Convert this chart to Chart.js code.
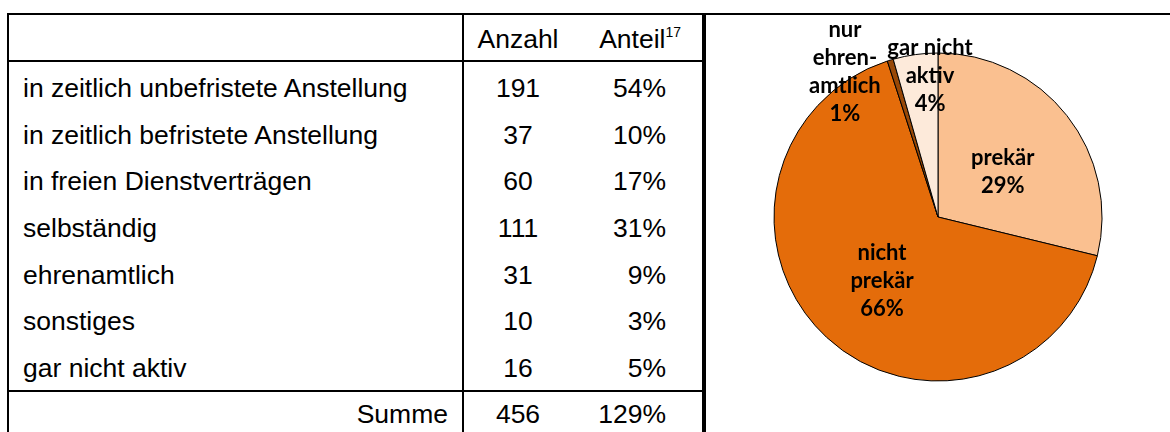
<!DOCTYPE html>
<html>
<head>
<meta charset="utf-8">
<script src="https://cdn.jsdelivr.net/npm/chart.js@4/dist/chart.umd.min.js"></script>
<style>
  html, body { margin: 0; padding: 0; background: #fff; }
  body { width: 1170px; height: 432px; position: relative; overflow: hidden;
         font-family: "Liberation Sans", Arial, sans-serif; color: #000; }
  .ln { position: absolute; background: #000; }
  .t { position: absolute; font-size: 26.5px; line-height: 30px; white-space: nowrap; }
  .c2 { left: 463px; width: 110px; text-align: center; }
  .c3 { left: 573px; width: 93px; text-align: right; }
  .h3 { left: 573px; width: 108px; text-align: right; }
  .c1 { left: 23px; }
  sup { font-size: 14px; line-height: 0; vertical-align: baseline; position: relative; top: -11px; }
  #pie { position: absolute; left: 740px; top: 16px; }
</style>
</head>
<body>
<div id="tbl"></div>
<canvas id="pie" width="396" height="402"></canvas>
<script>
// ---- table data ----
const rowLabels = [
  "in zeitlich unbefristete Anstellung",
  "in zeitlich befristete Anstellung",
  "in freien Dienstverträgen",
  "selbständig",
  "ehrenamtlich",
  "sonstiges",
  "gar nicht aktiv"
];
const rowCounts = [191, 37, 60, 111, 31, 10, 16];
const rowShares = ["54%", "10%", "17%", "31%", "9%", "3%", "5%"];
const sumLabel = "Summe";
const sumCount = 456;
const sumShare = "129%";
const headCount = "Anzahl";
const headShare = "Anteil";
const headShareNote = "17";

// ---- pie data ----
const pieCategories = ["prekär", "nicht prekär", "nur ehrenamtlich", "gar nicht aktiv"];
const pieLabelLines = [["prekär"], ["nicht", "prekär"], ["nur", "ehren-", "amtlich"], ["gar nicht", "aktiv"]];
const pieValues = [28.8, 66.2, 0.6, 4.4];

// ---- build table ----
const tbl = document.getElementById('tbl');
function addLine(l, t, w, h) {
  const d = document.createElement('div');
  d.className = 'ln';
  d.style.left = l + 'px'; d.style.top = t + 'px';
  d.style.width = w + 'px'; d.style.height = h + 'px';
  tbl.appendChild(d);
}
function addText(cls, top, html) {
  const d = document.createElement('div');
  d.className = 't ' + cls;
  d.style.top = (top - 15) + 'px';
  d.innerHTML = html;
  tbl.appendChild(d);
}
addLine(7, 13, 1163, 2);      // top line
addLine(7, 13, 2, 419);       // left border
addLine(462, 13, 2, 419);     // inner vertical
addLine(702, 13, 4, 419);     // right thick border
addLine(7, 60, 697, 2);       // header line
addLine(7, 390, 697, 2);      // sum line

addText('c2', 39, headCount);
addText('h3', 39, headShare + '<sup>' + headShareNote + '</sup>');
const rowTop = 88, rowStep = 46.67;
rowLabels.forEach((lab, i) => {
  const y = rowTop + i * rowStep;
  addText('c1', y, lab);
  addText('c2', y, String(rowCounts[i]));
  addText('c3', y, rowShares[i]);
});
const sumDiv = document.createElement('div');
sumDiv.className = 't';
sumDiv.style.top = (414 - 15) + 'px';
sumDiv.style.left = '250px'; sumDiv.style.width = '198px'; sumDiv.style.textAlign = 'right';
sumDiv.textContent = sumLabel;
tbl.appendChild(sumDiv);
addText('c2', 414, String(sumCount));
addText('c3', 414, sumShare);

// ---- pie ----
// label placement: angle offset (deg) from slice mid-angle, radius factor
const labelPlacement = [
  { dAngle: 3.5, rf: 0.48 },
  { dAngle: -1.8, rf: 0.52 },
  { dAngle: -15.7, rf: 1.053 },
  { dAngle: 4.7, rf: 0.864 }
];
const labelPlugin = {
  id: 'sliceLabels',
  afterDatasetsDraw(chart) {
    const ctx = chart.ctx;
    const meta = chart.getDatasetMeta(0);
    const total = pieValues.reduce((a, b) => a + b, 0);
    ctx.save();
    ctx.fillStyle = '#000';
    ctx.font = 'bold 22px Lato, "Open Sans", sans-serif';
    ctx.textAlign = 'center';
    ctx.textBaseline = 'middle';
    const lh = 28;
    meta.data.forEach((arc, i) => {
      const p = arc.getProps(['x', 'y', 'startAngle', 'endAngle', 'outerRadius'], true);
      const mid = (p.startAngle + p.endAngle) / 2 + labelPlacement[i].dAngle * Math.PI / 180;
      const r = p.outerRadius * labelPlacement[i].rf;
      const cx = p.x + Math.cos(mid) * r;
      const cy = p.y + Math.sin(mid) * r;
      const lines = pieLabelLines[i].concat([Math.round(pieValues[i] / total * 100) + '%']);
      const y0 = cy - (lines.length - 1) * lh / 2;
      lines.forEach((s, k) => ctx.fillText(s, cx, y0 + k * lh));
    });
    ctx.restore();
  }
};

new Chart(document.getElementById('pie'), {
  type: 'pie',
  data: {
    labels: pieCategories,
    datasets: [{
      data: pieValues,
      backgroundColor: ['#FAC090', '#E46C0A', '#984807', '#FDEADA'],
      borderColor: '#000',
      borderWidth: 1
    }]
  },
  options: {
    responsive: false,
    animation: false,
    radius: 164,
    layout: { padding: 0 },
    plugins: { legend: { display: false }, tooltip: { enabled: false } }
  },
  plugins: [labelPlugin]
});
</script>
</body>
</html>
